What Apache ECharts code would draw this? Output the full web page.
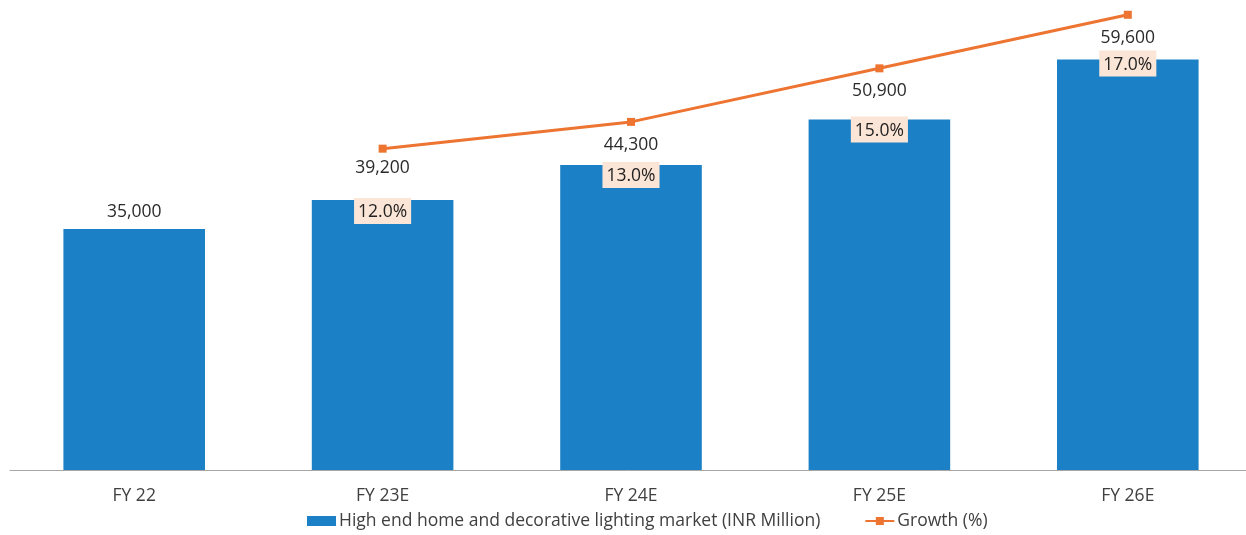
<!DOCTYPE html>
<html>
<head>
<meta charset="utf-8">
<script src="https://cdn.jsdelivr.net/npm/echarts@6/dist/echarts.min.js"></script>
<style>
  html, body { margin: 0; padding: 0; background: #ffffff; }
  #chart { width: 1246px; height: 535px; }
</style>
</head>
<body>
<div id="chart"></div>
<script>
// Fiscal years on the category axis
const years = ['FY 22', 'FY 23E', 'FY 24E', 'FY 25E', 'FY 26E'];
// Market size, INR million
const marketSize = [35000, 39200, 44300, 50900, 59600];
// Year-on-year growth, percent (none for the base year)
const growth = [null, 12.0, 13.0, 15.0, 17.0];

const marketName = 'High end home and decorative lighting market (INR Million)';
const growthName = 'Growth (%)';

// Gap between each value label and the top of its bar
const valueLabelGap = [8, 23, 11, 20, 13];
// Vertical shift of each growth tag relative to the bar top
const growthTagShift = [0, -2, -3, -3, -9];

const BLUE = '#1b80c5';
const ORANGE = '#ed7431';
const TEXT = '#404040';
const FONT = '"Open Sans", "Noto Sans", sans-serif';
const FS = 17.5;

const chart = echarts.init(document.getElementById('chart'), null, { renderer: 'canvas' });

const fmtThousands = v => v.toLocaleString('en-US');

chart.setOption({
  animation: false,
  textStyle: { fontFamily: FONT },
  grid: {
    left: 10, width: 1242, top: -12, bottom: 65,
    containLabel: false, outerBoundsMode: 'none'
  },
  legend: {
    left: 302, bottom: 0,
    itemWidth: 29, itemHeight: 10, itemGap: 44,
    textStyle: { fontFamily: FONT, fontSize: FS, color: TEXT, padding: [0, 0, 0, -2] },
    data: [
      { name: marketName, icon: 'rect' },
      { name: growthName }
    ]
  },
  xAxis: {
    type: 'category',
    data: years,
    axisLine: { lineStyle: { color: '#a6a6a6', width: 1 } },
    axisTick: { show: false },
    axisLabel: { fontFamily: FONT, fontSize: FS, color: TEXT, margin: 17 }
  },
  yAxis: [
    {
      type: 'value', min: 0, max: 70000, interval: 10000,
      axisLine: { show: false }, axisTick: { show: false },
      axisLabel: { show: false }, splitLine: { show: false }
    },
    {
      type: 'value', min: 0, max: 18, interval: 2,
      axisLine: { show: false }, axisTick: { show: false },
      axisLabel: { show: false }, splitLine: { show: false }
    }
  ],
  series: [
    {
      name: marketName,
      type: 'bar',
      barWidth: '57%',
      barGap: '-100%',
      itemStyle: { color: BLUE },
      data: marketSize.map((v, i) => ({
        value: v,
        label: {
          show: true,
          position: 'top',
          distance: valueLabelGap[i],
          formatter: p => fmtThousands(p.value),
          fontFamily: FONT, fontSize: FS, color: '#2b2b2b'
        }
      })),
      z: 2
    },
    {
      // Transparent overlay carrying the growth tags at the bar tops
      name: 'growthTags',
      type: 'bar',
      barWidth: '57%',
      barGap: '-100%',
      silent: true,
      itemStyle: { color: 'rgba(0,0,0,0)' },
      data: marketSize.map((v, i) => growth[i] == null ? '-' : ({
        value: v,
        label: {
          show: true,
          position: 'insideTop',
          distance: growthTagShift[i],
          formatter: () => growth[i].toFixed(1) + '%',
          fontFamily: FONT, fontSize: FS, color: '#222222',
          backgroundColor: '#fbe5d6',
          padding: [3, 4, 1, 4],
          lineHeight: 22
        }
      })),
      z: 3
    },
    {
      name: growthName,
      type: 'line',
      yAxisIndex: 1,
      data: growth.map(g => g == null ? '-' : g),
      lineStyle: { color: ORANGE, width: 3 },
      itemStyle: { color: ORANGE },
      symbol: 'rect',
      symbolSize: 8,
      showAllSymbol: true,
      connectNulls: false,
      z: 4
    }
  ]
});
</script>
</body>
</html>
